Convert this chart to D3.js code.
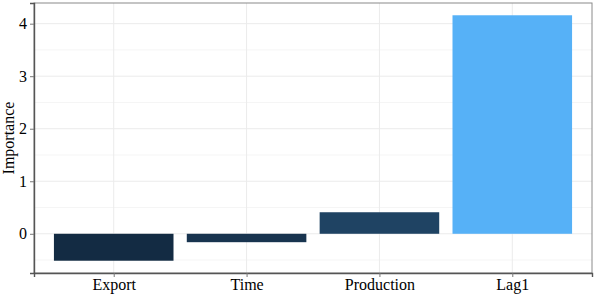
<!DOCTYPE html>
<html>
<head>
<meta charset="utf-8">
<script src="https://cdn.jsdelivr.net/npm/d3@7"></script>
<style>
  body { margin: 0; background: #fff; }
  text { font-family: "Liberation Serif", "Times New Roman", serif; fill: #000; }
</style>
</head>
<body>
<svg id="chart" width="595" height="296"></svg>
<script>
// data
let features = ["Export", "Time", "Production", "Lag1"];
let importance = [-0.513, -0.16, 0.41, 4.16];
let yTicks = [0, 1, 2, 3, 4];

let svg = d3.select("svg#chart");
let margin = {top: 3, right: 3, bottom: 23, left: 34};
let width = +svg.attr("width") - margin.left - margin.right;
let height = +svg.attr("height") - margin.top - margin.bottom;

let data = features.map((f, i) => ({feature: f, value: importance[i]}));

// ggplot-style discrete expansion: 0.6 units either side
let x = d3.scalePoint().domain(features).range([0, width]).padding(0.6);
let step = x.step();
let barWidth = step * 0.9;

let lo = d3.min(importance), hi = d3.max(importance);
let pad = (hi - lo) * 0.05;
let y = d3.scaleLinear().domain([lo - pad, hi + pad]).range([height, 0]);

let fill = d3.scaleLinear().domain([lo, hi]).range(["#132B43", "#56B1F7"])
             .interpolate(d3.interpolateLab);

let chartArea = svg.append("g").attr("transform", `translate(${margin.left},${margin.top})`);

// gridlines
let minor = d3.range(-0.5, hi + pad, 1);
chartArea.append("g").selectAll("line.minor")
    .data(minor).join("line")
    .attr("x1", 0).attr("x2", width)
    .attr("y1", d => y(d)).attr("y2", d => y(d))
    .attr("stroke", "#f2f2f2").attr("stroke-width", 0.8);
chartArea.append("g").selectAll("line.major")
    .data(yTicks).join("line")
    .attr("x1", 0).attr("x2", width)
    .attr("y1", d => y(d)).attr("y2", d => y(d))
    .attr("stroke", "#ebebeb").attr("stroke-width", 1);
chartArea.append("g").selectAll("line.vert")
    .data(features).join("line")
    .attr("x1", d => x(d)).attr("x2", d => x(d))
    .attr("y1", 0).attr("y2", height)
    .attr("stroke", "#ebebeb").attr("stroke-width", 1);

// bars
chartArea.append("g").selectAll("rect")
    .data(data).join("rect")
    .attr("x", d => x(d.feature) - barWidth / 2)
    .attr("width", barWidth)
    .attr("y", d => y(Math.max(0, d.value)))
    .attr("height", d => Math.abs(y(d.value) - y(0)))
    .attr("fill", d => fill(d.value));

// panel border
chartArea.append("rect")
    .attr("x", 0).attr("y", 0).attr("width", width).attr("height", height)
    .attr("fill", "none").attr("stroke", "#8a8a8a").attr("stroke-width", 1);

// axes
let leftAxis = d3.axisLeft(y).tickValues(yTicks).tickSize(4).tickPadding(3).tickFormat(d3.format("d"));
let bottomAxis = d3.axisBottom(x).tickSize(4).tickPadding(2);

let gy = chartArea.append("g").call(leftAxis);
let gx = chartArea.append("g").attr("transform", `translate(0,${height})`).call(bottomAxis);

[gx, gy].forEach(g => {
    g.select(".domain").attr("stroke", "#555").attr("stroke-width", 1.4);
    g.selectAll(".tick line").attr("stroke", "#777");
    g.selectAll(".tick text").attr("fill", "#000")
        .style("font-family", "Liberation Serif, serif").style("font-size", "16px");
});

svg.append("text")
    .attr("transform", `translate(14,${margin.top + height / 2}) rotate(-90)`)
    .attr("text-anchor", "middle")
    .style("font-size", "16px")
    .text("Importance");
</script>
</body>
</html>
